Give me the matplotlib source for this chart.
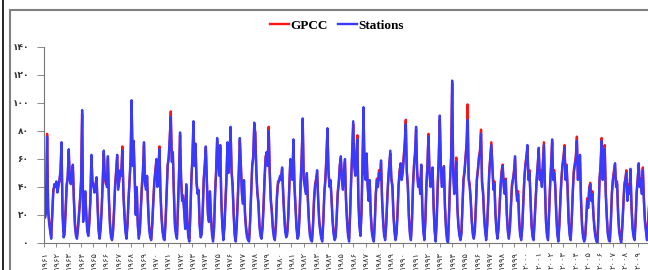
import matplotlib
matplotlib.use("Agg")
import matplotlib.pyplot as plt
from matplotlib.patches import Rectangle
from matplotlib.lines import Line2D

# monthly precipitation (mm), one row per year
stations = [
    40, 18, 22, 76, 22, 14, 8, 3, 20, 36, 42, 40,
    44, 36, 40, 45, 52, 72, 20, 4, 6, 22, 40, 48,
    67, 45, 42, 50, 56, 30, 12, 5, 3, 10, 20, 30,
    45, 95, 15, 22, 37, 20, 8, 5, 14, 30, 63, 42,
    40, 36, 42, 47, 25, 8, 3, 10, 24, 45, 66, 48,
    44, 40, 62, 30, 12, 4, 2, 8, 22, 40, 50, 63,
    38, 45, 52, 48, 66, 35, 20, 8, 3, 12, 30, 45,
    60, 102, 55, 73, 45, 20, 40, 12, 3, 8, 24, 40,
    50, 72, 42, 38, 48, 25, 10, 4, 2, 12, 28, 42,
    50, 60, 40, 52, 67, 35, 18, 8, 3, 2, 15, 35,
    55, 62, 75, 90, 58, 65, 35, 12, 6, 3, 25, 48,
    79, 45, 30, 32, 22, 10, 42, 15, 4, 1, 20, 45,
    62, 87, 55, 71, 42, 35, 38, 12, 4, 6, 22, 45,
    55, 69, 45, 20, 15, 37, 18, 6, 1, 10, 35, 50,
    75, 60, 48, 70, 30, 12, 2, 10, 28, 45, 72, 50,
    60, 83, 50, 40, 20, 5, 1, 12, 30, 50, 75, 55,
    35, 28, 45, 20, 10, 4, 2, 1, 15, 35, 55, 60,
    86, 77, 50, 35, 28, 12, 5, 3, 10, 25, 45, 60,
    65, 55, 80, 50, 30, 22, 10, 4, 2, 12, 32, 42,
    44, 48, 45, 54, 35, 20, 8, 4, 6, 18, 40, 60,
    55, 45, 74, 40, 25, 10, 3, 5, 20, 42, 60, 89,
    45, 40, 35, 50, 30, 15, 5, 2, 1, 12, 30, 40,
    45, 52, 30, 15, 8, 3, 1, 15, 35, 45, 60, 82,
    50, 40, 45, 30, 15, 6, 2, 4, 18, 35, 42, 55,
    62, 45, 38, 50, 60, 30, 15, 5, 1, 20, 45, 65,
    87, 55, 48, 60, 74, 30, 12, 5, 20, 55, 97, 50,
    45, 64, 40, 30, 45, 20, 8, 3, 1, 15, 35, 45,
    40, 50, 45, 59, 30, 15, 5, 2, 12, 30, 45, 55,
    66, 45, 40, 20, 8, 2, 6, 20, 40, 50, 57, 45,
    50, 60, 70, 85, 50, 40, 18, 6, 2, 15, 40, 55,
    65, 83, 50, 40, 45, 35, 56, 25, 8, 2, 15, 40,
    55, 76, 50, 40, 45, 54, 25, 8, 1, 15, 40, 60,
    91, 55, 40, 45, 55, 25, 10, 2, 0, 20, 45, 60,
    116, 50, 35, 45, 58, 25, 12, 5, 2, 6, 25, 45,
    50, 60, 70, 88, 45, 40, 30, 15, 6, 3, 8, 25,
    45, 52, 60, 65, 78, 42, 35, 18, 8, 2, 12, 30,
    50, 60, 70, 55, 38, 42, 20, 8, 3, 10, 25, 40,
    50, 55, 40, 35, 45, 20, 8, 3, 10, 25, 40, 45,
    50, 62, 40, 30, 35, 15, 5, 2, 10, 28, 45, 55,
    60, 70, 45, 50, 30, 12, 4, 2, 15, 30, 45, 55,
    68, 45, 50, 40, 55, 70, 40, 15, 5, 2, 20, 40,
    55, 74, 45, 50, 40, 20, 6, 1, 12, 30, 45, 55,
    60, 68, 45, 55, 38, 15, 5, 2, 15, 35, 50, 55,
    60, 73, 45, 50, 63, 30, 12, 4, 1, 3, 15, 30,
    25, 38, 42, 30, 35, 20, 10, 4, 1, 0, 20, 45,
    55, 73, 45, 50, 67, 35, 18, 6, 2, 1, 15, 35,
    45, 50, 57, 40, 42, 20, 8, 3, 0, 10, 25, 40,
    45, 50, 30, 40, 35, 53, 25, 10, 4, 2, 15, 35,
    45, 57, 40, 45, 35, 52, 30, 15, 8, 2, 12, 25,
]

gpcc = [
    38, 20, 25, 78, 25, 16, 10, 5, 22, 38, 40, 42,
    42, 38, 42, 44, 50, 70, 22, 8, 10, 25, 42, 46,
    65, 46, 44, 48, 55, 32, 15, 7, 5, 12, 22, 32,
    44, 92, 18, 24, 36, 22, 10, 7, 16, 32, 62, 44,
    42, 38, 40, 46, 27, 10, 5, 12, 26, 44, 64, 46,
    42, 42, 60, 32, 15, 6, 3, 10, 25, 42, 52, 62,
    40, 44, 50, 50, 69, 38, 22, 10, 5, 14, 32, 44,
    58, 98, 56, 72, 46, 22, 38, 14, 5, 10, 26, 42,
    52, 70, 44, 40, 47, 27, 12, 6, 3, 14, 30, 44,
    52, 58, 42, 54, 69, 37, 20, 10, 5, 4, 18, 37,
    56, 60, 74, 94, 60, 63, 37, 15, 8, 5, 27, 50,
    77, 46, 32, 34, 24, 12, 40, 17, 6, 3, 22, 46,
    60, 85, 56, 70, 44, 37, 36, 14, 6, 8, 24, 46,
    56, 68, 46, 22, 17, 35, 20, 8, 3, 12, 37, 52,
    73, 62, 50, 68, 32, 14, 4, 12, 30, 47, 70, 52,
    62, 81, 52, 42, 22, 7, 3, 14, 32, 52, 73, 56,
    37, 30, 44, 22, 12, 6, 4, 3, 17, 37, 56, 62,
    84, 79, 52, 37, 30, 14, 7, 5, 12, 27, 47, 62,
    64, 57, 83, 52, 32, 24, 12, 6, 4, 14, 34, 44,
    45, 47, 46, 53, 37, 22, 10, 6, 8, 20, 42, 58,
    56, 46, 72, 42, 27, 12, 5, 7, 22, 44, 62, 86,
    46, 42, 37, 48, 32, 17, 7, 4, 3, 14, 32, 42,
    46, 50, 32, 17, 10, 5, 3, 17, 37, 46, 62, 80,
    52, 42, 44, 32, 17, 8, 4, 6, 20, 37, 44, 56,
    60, 46, 40, 52, 58, 32, 17, 7, 3, 22, 46, 63,
    85, 56, 50, 62, 77, 32, 14, 7, 22, 56, 94, 52,
    46, 62, 42, 32, 44, 22, 10, 5, 3, 17, 37, 46,
    42, 52, 46, 57, 32, 17, 7, 4, 14, 32, 46, 56,
    64, 46, 42, 22, 10, 4, 8, 22, 42, 52, 56, 46,
    52, 62, 72, 88, 52, 42, 20, 8, 4, 17, 42, 56,
    63, 81, 52, 42, 46, 37, 55, 27, 10, 4, 17, 42,
    56, 78, 52, 42, 46, 53, 27, 10, 3, 17, 42, 62,
    88, 56, 42, 46, 54, 27, 12, 4, 2, 22, 46, 62,
    114, 52, 37, 46, 61, 27, 14, 7, 4, 8, 27, 46,
    52, 62, 72, 99, 47, 42, 32, 17, 8, 5, 10, 27,
    46, 53, 62, 66, 81, 44, 37, 20, 10, 4, 14, 32,
    52, 62, 72, 56, 40, 44, 22, 10, 5, 12, 27, 42,
    52, 56, 42, 37, 46, 22, 10, 5, 12, 27, 42, 46,
    52, 60, 42, 32, 37, 17, 7, 4, 12, 30, 46, 56,
    62, 68, 46, 52, 32, 14, 6, 4, 17, 32, 46, 56,
    66, 46, 52, 42, 57, 72, 42, 17, 7, 4, 22, 42,
    56, 72, 46, 52, 42, 22, 8, 3, 14, 32, 46, 56,
    62, 70, 46, 56, 40, 17, 7, 4, 17, 37, 52, 57,
    62, 76, 46, 52, 62, 32, 14, 6, 3, 5, 17, 32,
    27, 40, 43, 32, 37, 22, 12, 6, 3, 2, 22, 46,
    56, 75, 46, 52, 70, 37, 20, 8, 4, 3, 17, 37,
    46, 52, 56, 42, 44, 22, 10, 5, 2, 12, 27, 42,
    46, 52, 32, 42, 37, 52, 27, 12, 6, 4, 17, 37,
    46, 55, 42, 46, 37, 54, 32, 17, 10, 4, 14, 27,
]

years = list(range(1961, 2010))

fa = str.maketrans("0123456789", "۰۱۲۳۴۵۶۷۸۹")
def to_fa(n):
    return str(n).translate(fa)

yticks = [0, 20, 40, 60, 80, 100, 120, 140]

fig = plt.figure(figsize=(6.48, 2.7), dpi=100)

# surrounding frame of the panel
fig.patches.append(Rectangle((10 / 648, -0.1), 1.0, (260 / 270) + 0.1, transform=fig.transFigure,
                             fill=False, edgecolor="#808080", linewidth=1.5))
fig.add_artist(Line2D([2.5 / 648, 2.5 / 648], [0, 1], transform=fig.transFigure, color="black", linewidth=1.2))

ax = fig.add_axes([44 / 648, 27 / 270, 604 / 648, 196 / 270])
x = list(range(len(stations)))
ax.plot(x, gpcc, color="#ff1414", linewidth=1.7, label="GPCC")
ax.plot(x, stations, color="#3a3aff", linewidth=1.7, label="Stations")

ax.set_xlim(0, 586)
ax.set_ylim(0, 140)
ax.set_yticks(yticks)
ax.set_yticklabels([to_fa(v) for v in yticks], fontsize=6.5, fontweight="bold", color="#333333")
ax.set_xticks([12 * i for i in range(len(years))])
ax.set_xticklabels([to_fa(y) for y in years], rotation=90, fontsize=6, color="#333333")
ax.tick_params(axis="y", length=5, width=0.6, color="#777777", pad=6)
ax.tick_params(axis="x", length=3, width=0.6, color="#777777", pad=3)
for s in ["top", "right"]:
    ax.spines[s].set_visible(False)
for s in ["left", "bottom"]:
    ax.spines[s].set_color("#777777")
    ax.spines[s].set_linewidth(0.8)

leg = fig.legend(loc="center", bbox_to_anchor=(0.52, 0.905), ncol=2, frameon=False,
                 prop={"family": "Liberation Serif", "weight": "bold", "size": 9.5},
                 handlelength=1.4, handletextpad=0.1, columnspacing=0.8)

plt.savefig("out.png", dpi=100)
